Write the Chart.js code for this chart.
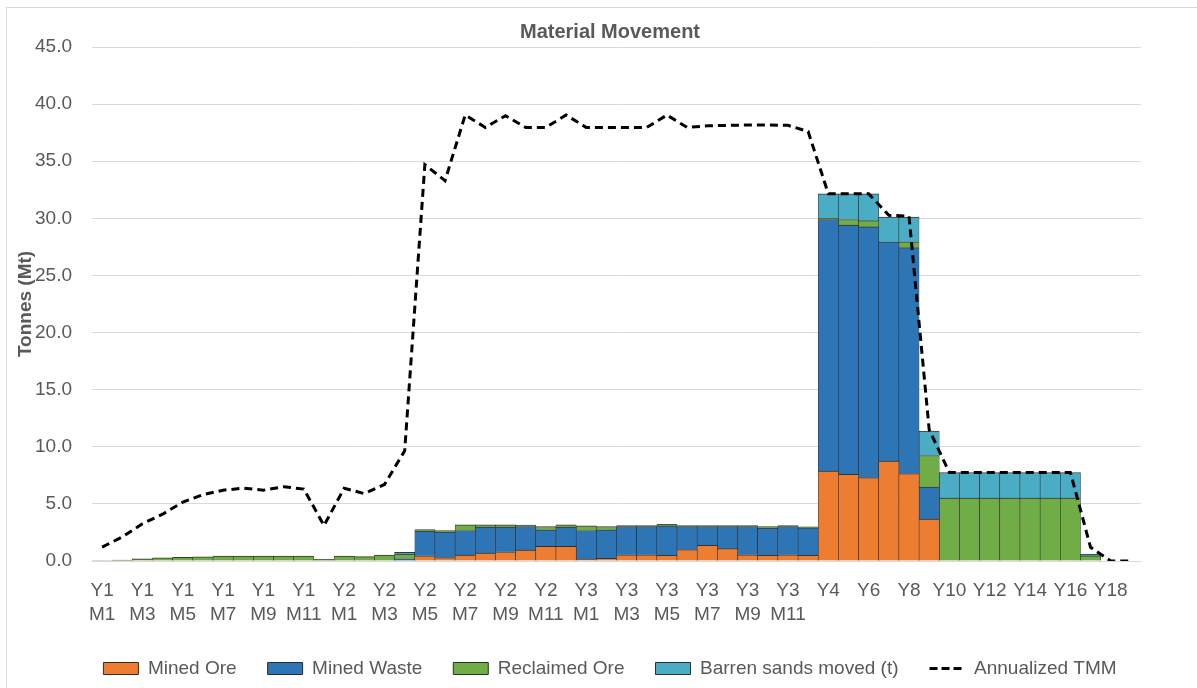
<!DOCTYPE html>
<html>
<head>
<meta charset="utf-8">
<script src="https://cdn.jsdelivr.net/npm/chart.js@4.4.1/dist/chart.umd.min.js"></script>
<style>
    html, body { margin: 0; padding: 0; background: #fff; overflow: hidden; }
    #frame {
        position: absolute; left: 6px; top: 7px;
        width: 1206px; height: 681px;
        border-left: 1px solid #d9d9d9; border-top: 1px solid #d9d9d9;
    }
    #chartBox { position: relative; width: 1206px; height: 680px; }
</style>
</head>
<body>
<div id="frame"><div id="chartBox"><canvas id="materialChart"></canvas></div></div>
<script>
const categories = [
    'Y1 M1', 'Y1 M2', 'Y1 M3', 'Y1 M4', 'Y1 M5', 'Y1 M6', 'Y1 M7', 'Y1 M8', 'Y1 M9', 'Y1 M10', 'Y1 M11', 'Y1 M12',
    'Y2 M1', 'Y2 M2', 'Y2 M3', 'Y2 M4', 'Y2 M5', 'Y2 M6', 'Y2 M7', 'Y2 M8', 'Y2 M9', 'Y2 M10', 'Y2 M11', 'Y2 M12',
    'Y3 M1', 'Y3 M2', 'Y3 M3', 'Y3 M4', 'Y3 M5', 'Y3 M6', 'Y3 M7', 'Y3 M8', 'Y3 M9', 'Y3 M10', 'Y3 M11', 'Y3 M12',
    'Y4', 'Y5', 'Y6', 'Y7', 'Y8', 'Y9', 'Y10', 'Y11', 'Y12', 'Y13', 'Y14', 'Y15', 'Y16', 'Y17', 'Y18', 'Y19'
];

// Mt per period
const minedOre = [
    0, 0, 0, 0, 0, 0, 0, 0, 0, 0, 0, 0,
    0, 0, 0, 0, 0.45, 0.3, 0.52, 0.7, 0.81, 0.96, 1.28, 1.28,
    0.17, 0.23, 0.55, 0.55, 0.5, 1.0, 1.37, 1.08, 0.55, 0.5, 0.55, 0.5,
    7.88, 7.59, 7.3, 8.75, 7.65, 3.66, 0, 0, 0, 0, 0, 0, 0, 0, 0, 0
];
const minedWaste = [
    0, 0, 0, 0, 0, 0, 0, 0, 0, 0, 0, 0,
    0, 0, 0, 0.2, 2.17, 2.23, 2.15, 2.27, 2.16, 2.06, 1.45, 1.69,
    2.5, 2.5, 2.47, 2.47, 2.58, 2.02, 1.65, 1.94, 2.47, 2.38, 2.47, 2.4,
    22.02, 21.81, 21.95, 19.19, 19.79, 2.82, 0, 0, 0, 0, 0, 0, 0, 0, 0, 0
];
const reclaimedOre = [
    0.04, 0.08, 0.18, 0.28, 0.32, 0.37, 0.43, 0.43, 0.43, 0.43, 0.43, 0.15,
    0.43, 0.38, 0.52, 0.4, 0.13, 0.14, 0.5, 0.2, 0.2, 0.12, 0.29, 0.2,
    0.41, 0.29, 0.08, 0.08, 0.12, 0.08, 0.08, 0.08, 0.08, 0.14, 0.08, 0.1,
    0.1, 0.5, 0.55, 0, 0.5, 2.76, 5.5, 5.5, 5.5, 5.5, 5.5, 5.5, 5.5, 0.45, 0, 0
];
const barrenSands = [
    0, 0, 0, 0, 0, 0, 0, 0, 0, 0, 0, 0,
    0, 0, 0, 0.15, 0, 0, 0, 0, 0, 0, 0, 0,
    0, 0, 0, 0, 0, 0, 0, 0, 0, 0, 0, 0,
    2.15, 2.25, 2.35, 2.16, 2.16, 2.13, 2.25, 2.25, 2.25, 2.25, 2.25, 2.25, 2.25, 0.15, 0, 0
];
const annualizedTmm = [
    1.22, 2.1, 3.26, 4.1, 5.15, 5.8, 6.2, 6.37, 6.2, 6.5, 6.3, 3.1,
    6.37, 5.9, 6.7, 9.65, 34.7, 33.3, 39.04, 37.96, 38.98, 37.96, 37.96, 39.04,
    37.96, 37.96, 37.96, 37.96, 39.04, 37.96, 38.1, 38.14, 38.17, 38.17, 38.14, 37.6,
    32.15, 32.15, 32.15, 30.26, 30.2, 11.5, 7.75, 7.75, 7.75, 7.75, 7.75, 7.75, 7.75, 1.2, 0, 0
];

const yTicksMax = 45;
const yTicksStep = 5;

const textGrey = '#595959';
const barEdge = 'rgba(20, 20, 20, 0.85)';
const fontName = "'Liberation Sans', Arial, sans-serif";

function barSet(label, data, color) {
    return {
        type: 'bar',
        label: label,
        data: data,
        backgroundColor: color,
        borderColor: barEdge,
        borderWidth: { top: 1, left: 0.6, right: 0.6, bottom: 0 },
        borderSkipped: false,
        barPercentage: 1,
        categoryPercentage: 1,
        pointStyle: 'rect',
        stack: 'material',
        order: 1
    };
}

const ctx = document.getElementById('materialChart').getContext('2d');
const materialChart = new Chart(ctx, {
    data: {
        labels: categories,
        datasets: [
            barSet('Mined Ore', minedOre, '#ED7D31'),
            barSet('Mined Waste', minedWaste, '#2E75B6'),
            barSet('Reclaimed Ore', reclaimedOre, '#70AD47'),
            barSet('Barren sands moved (t)', barrenSands, '#4BACC6'),
            {
                type: 'line',
                label: 'Annualized TMM',
                data: annualizedTmm,
                borderColor: '#000000',
                backgroundColor: '#000000',
                borderWidth: 3,
                borderDash: [8, 5],
                pointRadius: 0,
                pointStyle: 'line',
                tension: 0,
                stack: 'tmm',
                order: 0
            }
        ]
    },
    options: {
        responsive: true,
        maintainAspectRatio: false,
        animation: false,
        layout: { padding: 0 },
        plugins: {
            title: {
                display: true,
                text: 'Material Movement',
                color: textGrey,
                font: { family: fontName, size: 20, weight: 'bold' },
                padding: { top: 12, bottom: 3 }
            },
            legend: {
                position: 'bottom',
                labels: {
                    usePointStyle: true,
                    pointStyleWidth: 35,
                    boxHeight: 12,
                    padding: 31,
                    color: textGrey,
                    font: { family: fontName, size: 19 },
                    sort: (a, b) => a.datasetIndex - b.datasetIndex,
                    generateLabels: function(chart) {
                        const items = Chart.defaults.plugins.legend.labels.generateLabels(chart);
                        items.forEach(item => {
                            const ds = chart.data.datasets[item.datasetIndex];
                            if (ds.type === 'line') {
                                item.lineDash = [8, 4];
                                item.lineWidth = ds.borderWidth;
                                item.strokeStyle = ds.borderColor;
                            } else {
                                item.lineWidth = 1;
                            }
                        });
                        return items;
                    }
                }
            },
            tooltip: { enabled: false }
        },
        scales: {
            x: {
                stacked: true,
                grid: { display: false, drawTicks: false },
                border: { display: true, color: '#d9d9d9', width: 1 },
                ticks: {
                    autoSkip: false,
                    maxRotation: 0,
                    minRotation: 0,
                    padding: 18,
                    color: textGrey,
                    font: { family: fontName, size: 19, lineHeight: 1.25 },
                    callback: function(value, index) {
                        if (index % 2 !== 0) {
                            return null;
                        }
                        return categories[index].split(' ');
                    }
                },
                afterFit: function(scale) {
                    scale.height = 67;
                }
            },
            y: {
                stacked: true,
                min: 0,
                max: yTicksMax,
                grid: { color: '#d9d9d9', drawTicks: false },
                border: { display: false },
                ticks: {
                    stepSize: yTicksStep,
                    padding: 20,
                    color: textGrey,
                    font: { family: fontName, size: 19 },
                    callback: v => v.toFixed(1)
                },
                title: {
                    display: true,
                    text: 'Tonnes (Mt)',
                    color: textGrey,
                    font: { family: fontName, size: 19, weight: 'bold' },
                    padding: { top: 7, bottom: 0 }
                },
                afterFit: function(scale) {
                    scale.width = 85;
                }
            },
            yRight: {
                position: 'right',
                display: true,
                grid: { display: false, drawTicks: false },
                border: { display: false },
                ticks: { display: false },
                afterFit: function(scale) {
                    scale.width = 72;
                }
            }
        }
    }
});
</script>
</body>
</html>
